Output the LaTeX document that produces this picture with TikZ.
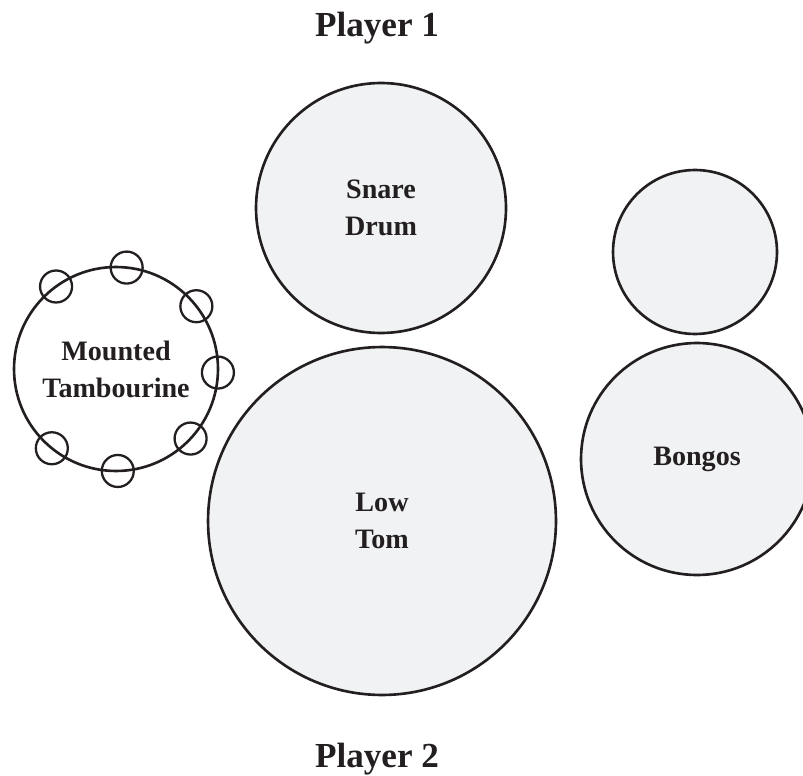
\documentclass[tikz,border=0pt]{standalone}
\usepackage{fontspec}
\setmainfont{Liberation Serif}
\usepackage{xcolor}
\usepackage{tikz}
\usetikzlibrary{positioning}
\definecolor{drumfill}{HTML}{F1F2F4}
\definecolor{inkline}{HTML}{231F20}

\begin{document}
\begin{tikzpicture}[
            x=0.02cm, y=-0.02cm,
            every node/.style={text=inkline},
            drum/.style={circle, draw=inkline, line width=1.5pt, fill=drumfill, inner sep=0pt, outer sep=0pt, align=center, font=\fontsize{16}{21}\selectfont\bfseries},
            ring/.style={circle, draw=inkline, line width=1.5pt, inner sep=0pt, outer sep=0pt, align=center, font=\fontsize{16}{21}\selectfont\bfseries},
            jingle/.style={circle, draw=inkline, line width=1.3pt, minimum size=0.64cm, inner sep=0pt},
            player/.style={anchor=base, font=\fontsize{20}{24}\selectfont\bfseries},
        ]
            \useasboundingbox (0,0) rectangle (803,776);

            \node[player] (top) at (377,37) {Player 1};
            \node[player] (bottom) at (377,767) {Player 2};

            \node[drum, minimum size=5cm] (snare) at (381,208) {Snare\\Drum};
            \node[drum, minimum size=6.96cm] (lowtom) at (382,521) {Low\\Tom};
            \node[drum, minimum size=3.28cm] (bongohi) at (695,252) {};
            \node[drum, minimum size=4.64cm] (bongolo) at (697,459) {Bongos};

            \node[ring, minimum size=4.08cm] (tamb) at (116,369) {Mounted\\Tambourine};
            \foreach \a [count=\i] in {84,38,-2,-43,-89,-129,126}
                \node[jingle] (jingle\i) at (tamb.\a) {};
        \end{tikzpicture}
\end{document}
